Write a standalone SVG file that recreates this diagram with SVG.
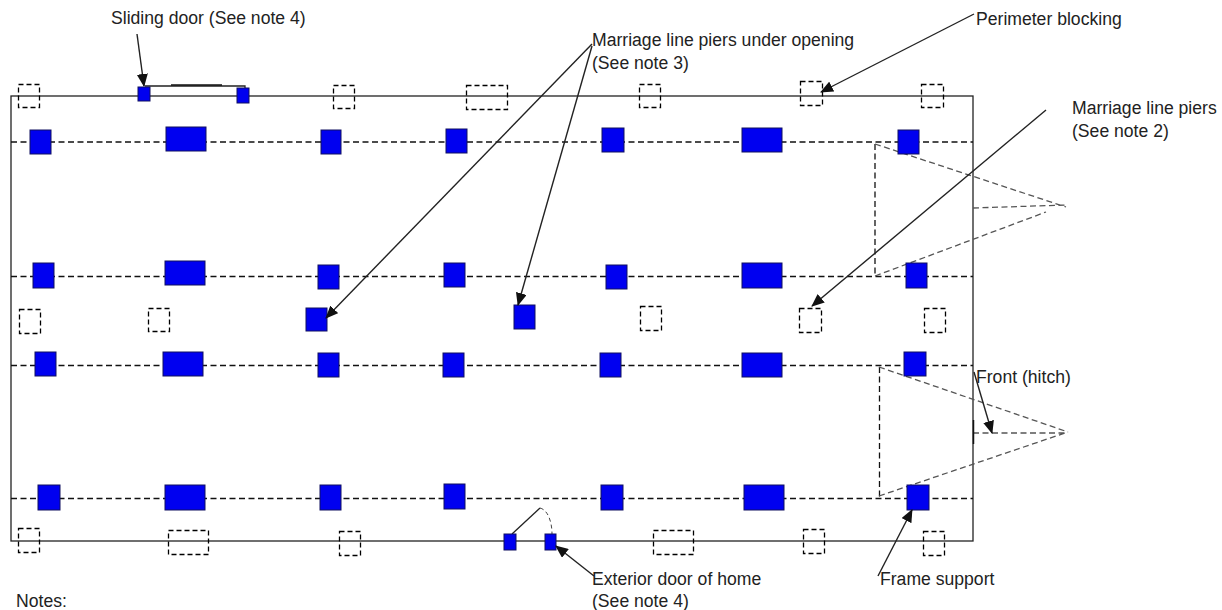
<svg xmlns="http://www.w3.org/2000/svg" width="1222" height="610" viewBox="0 0 1222 610">
<style>
text{font-family:"Liberation Sans",Arial,sans-serif;font-size:17.6px;fill:#222}
.p{fill:#0000f0;stroke:#101060;stroke-width:1}
.b{fill:none;stroke:#000;stroke-width:1.3;stroke-dasharray:5 3}
.l{fill:none;stroke:#111;stroke-width:1.3;stroke-dasharray:6 3.5}
.g{fill:none;stroke:#555;stroke-width:1.3;stroke-dasharray:6 3.5}
.a{fill:none;stroke:#222;stroke-width:1.4;marker-end:url(#ah)}
.s{fill:none;stroke:#222;stroke-width:1.3}
</style>
<defs><marker id="ah" markerUnits="userSpaceOnUse" markerWidth="13" markerHeight="11" refX="12" refY="5.500" orient="auto"><path d="M0 0L13 5.500L0 11z" fill="#111"/></marker></defs>
<rect id="home" x="11" y="96" width="962" height="445" fill="none" stroke="#222" stroke-width="1.3"/>
<g id="frame-lines">
<path class="l" d="M11 142H973M11 276.500H973M11 365.500H973M11 498.500H973"/>
<path class="l" d="M875 144V276M879.500 367V497"/>
<path class="g" d="M875 144L1066 207M875 276L1046 212M973 208L1066 205"/>
<path class="g" d="M879 367L1068 432M879 496L1068 432M973 433H1068"/>
<path d="M973.500 420V444" stroke="#111" stroke-width="1.5"/>
</g>
<g id="sliding-door"><path class="s" d="M145 86H245V90"/><path d="M171 85H222" stroke="#111" stroke-width="1.6"/><rect class="p" x="138" y="87" width="12" height="14"/><rect class="p" x="237" y="88" width="12" height="15"/></g>
<g id="exterior-door"><path class="s" d="M512 534L540 508"/><path d="M540 508C548 510 552 522 552 534" fill="none" stroke="#444" stroke-dasharray="4 3"/><rect class="p" x="504" y="534" width="12" height="16"/><rect class="p" x="545" y="534" width="11" height="16"/></g>
<g id="piers-row1"><rect class="p" x="30" y="130" width="21" height="24"/><rect class="p" x="166" y="127" width="40" height="24"/><rect class="p" x="321" y="130" width="20" height="24"/><rect class="p" x="446" y="129" width="21" height="24"/><rect class="p" x="602" y="128" width="22" height="24"/><rect class="p" x="742" y="128" width="40" height="24"/><rect class="p" x="898" y="130" width="21" height="24"/></g>
<g id="piers-row2"><rect class="p" x="33" y="263" width="21" height="25"/><rect class="p" x="165" y="261" width="40" height="24"/><rect class="p" x="318" y="265" width="21" height="24"/><rect class="p" x="444" y="263" width="21" height="24"/><rect class="p" x="606" y="265" width="21" height="24"/><rect class="p" x="742" y="263" width="40" height="25"/><rect class="p" x="906" y="263" width="21" height="25"/></g>
<g id="piers-row3"><rect class="p" x="35" y="352" width="21" height="24"/><rect class="p" x="163" y="352" width="40" height="24"/><rect class="p" x="318" y="353" width="21" height="24"/><rect class="p" x="443" y="353" width="21" height="24"/><rect class="p" x="600" y="353" width="21" height="24"/><rect class="p" x="742" y="353" width="40" height="24"/><rect class="p" x="904" y="352" width="22" height="24"/></g>
<g id="piers-row4"><rect class="p" x="38" y="485" width="22" height="25"/><rect class="p" x="165" y="485" width="40" height="25"/><rect class="p" x="320" y="485" width="21" height="25"/><rect class="p" x="444" y="484" width="21" height="25"/><rect class="p" x="601" y="485" width="22" height="25"/><rect class="p" x="744" y="485" width="40" height="25"/><rect class="p" x="907" y="485" width="22" height="25"/></g>
<g id="piers-opening"><rect class="p" x="306" y="308" width="21" height="23"/><rect class="p" x="514" y="305" width="21" height="24"/></g>
<g id="blocking-top" transform="translate(.5 .5)"><rect class="b" x="18" y="84" width="21" height="23"/><rect class="b" x="333" y="85" width="21" height="23"/><rect class="b" x="466" y="85" width="41" height="24"/><rect class="b" x="639" y="84" width="21" height="23"/><rect class="b" x="800" y="81" width="22" height="24"/><rect class="b" x="921" y="84" width="22" height="23"/></g>
<g id="blocking-mid" transform="translate(.5 .5)"><rect class="b" x="19" y="309" width="21" height="24"/><rect class="b" x="148" y="308" width="21" height="23"/><rect class="b" x="640" y="306" width="21" height="24"/><rect class="b" x="799" y="308" width="22" height="24"/><rect class="b" x="924" y="308" width="21" height="24"/></g>
<g id="blocking-bottom" transform="translate(.5 .5)"><rect class="b" x="18" y="528" width="21" height="24"/><rect class="b" x="168" y="530" width="40" height="24"/><rect class="b" x="339" y="531" width="21" height="24"/><rect class="b" x="653" y="530" width="40" height="24"/><rect class="b" x="803" y="529" width="21" height="24"/><rect class="b" x="923" y="531" width="21" height="24"/></g>
<g id="connectors">
<path class="a" d="M137 34L144 86"/>
<path class="a" d="M592 44L326 318"/>
<path class="a" d="M592 46L518 305"/>
<path class="a" d="M974 14L821 92"/>
<path class="a" d="M1046 110L812 306"/>
<path class="a" d="M974 372L992 433"/>
<path class="a" d="M878 576L912 510"/>
<path class="a" d="M594 576L556 546"/>
</g>
<g id="labels">
<text x="111" y="24">Sliding door (See note 4)</text>
<text x="592" y="46">Marriage line piers under opening</text>
<text x="592" y="69">(See note 3)</text>
<text x="976" y="25">Perimeter blocking</text>
<text x="1072" y="114">Marriage line piers</text>
<text x="1072" y="137">(See note 2)</text>
<text x="976" y="383">Front (hitch)</text>
<text x="880" y="585">Frame support</text>
<text x="592" y="585">Exterior door of home</text>
<text x="592" y="607">(See note 4)</text>
<text x="16" y="607">Notes:</text>
</g>
</svg>
